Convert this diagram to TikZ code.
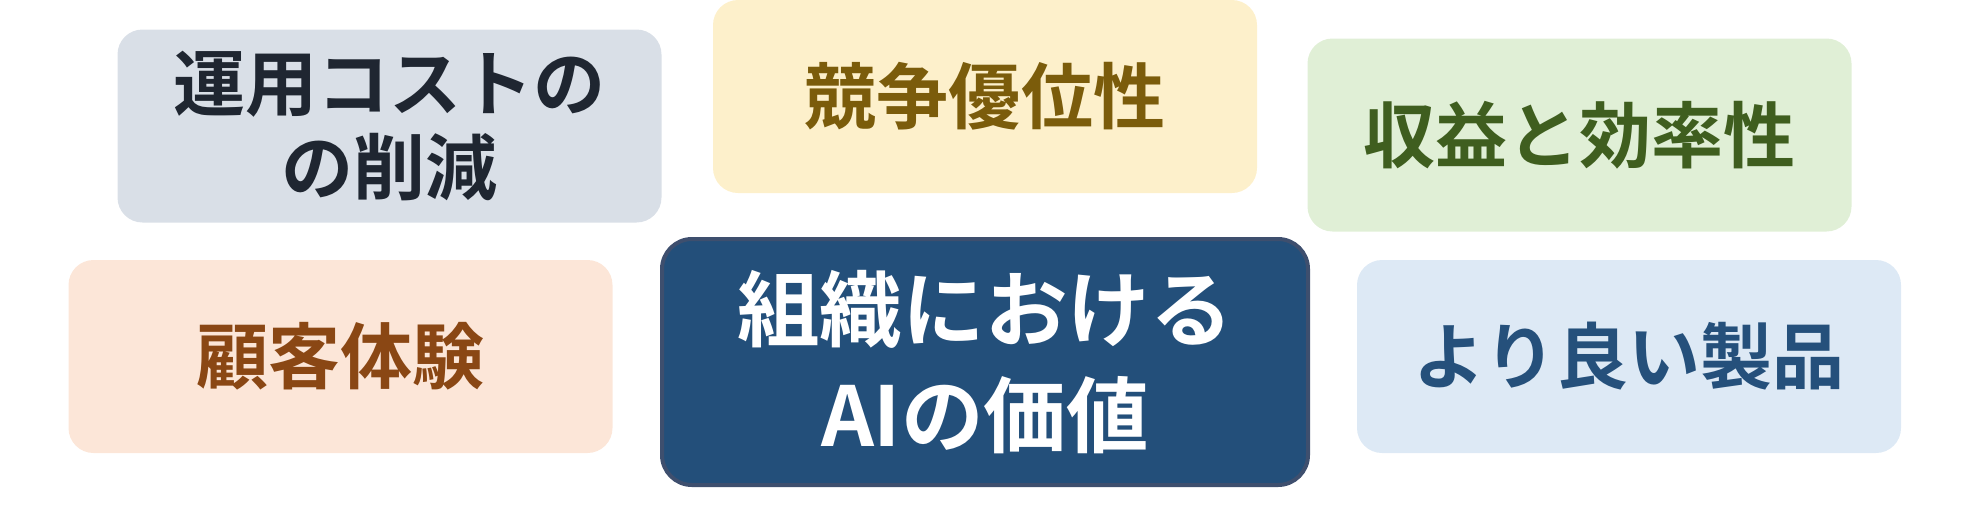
\documentclass[tikz,border=0pt]{standalone}
\usepackage{fontspec}
\setmainfont{Noto Sans CJK JP}[BoldFont={Noto Sans CJK JP Bold}]
\usetikzlibrary{shapes,positioning}
\definecolor{costfill}{HTML}{D9DFE7}
\definecolor{costtext}{HTML}{1F2631}
\definecolor{edgefill}{HTML}{FDF0CB}
\definecolor{edgetext}{HTML}{7B5C0B}
\definecolor{gainfill}{HTML}{E0EFD6}
\definecolor{gaintext}{HTML}{3F5E1F}
\definecolor{custfill}{HTML}{FCE6D8}
\definecolor{custtext}{HTML}{8A4714}
\definecolor{prodfill}{HTML}{DDE9F5}
\definecolor{prodtext}{HTML}{25507B}
\definecolor{corefill}{HTML}{234F7A}
\definecolor{coreline}{HTML}{3E4F6E}
\tikzstyle{card} = [rectangle, rounded corners=0.5cm, text centered, align=center,
    minimum width=10.88cm, minimum height=3.86cm, inner sep=0pt,
    font=\fontsize{41}{48}\selectfont\bfseries]
\tikzstyle{core} = [card, draw=coreline, line width=0.08cm, fill=corefill, text=white,
    minimum width=12.92cm, minimum height=4.92cm, rounded corners=0.6cm,
    font=\fontsize{47}{60}\selectfont\bfseries]

\begin{document}
\begin{tikzpicture}

    \useasboundingbox (0,0) rectangle (39.38,-10.56);

    % Place nodes
    \node [core] (value) at (19.70,-7.24) {組織における\\AIの価値};
    \node [card, fill=costfill, text=costtext] (cost) at (7.79,-2.52) {運用コストの\\の削減};
    \node [card, fill=edgefill, text=edgetext] (edge) at (19.70,-1.93) {競争優位性};
    \node [card, fill=gainfill, text=gaintext] (gain) at (31.59,-2.70) {収益と効率性};
    \node [card, fill=custfill, text=custtext] (cust) at (6.81,-7.13) {顧客体験};
    \node [card, fill=prodfill, text=prodtext] (prod) at (32.58,-7.13) {より良い製品};

\end{tikzpicture}
\end{document}
